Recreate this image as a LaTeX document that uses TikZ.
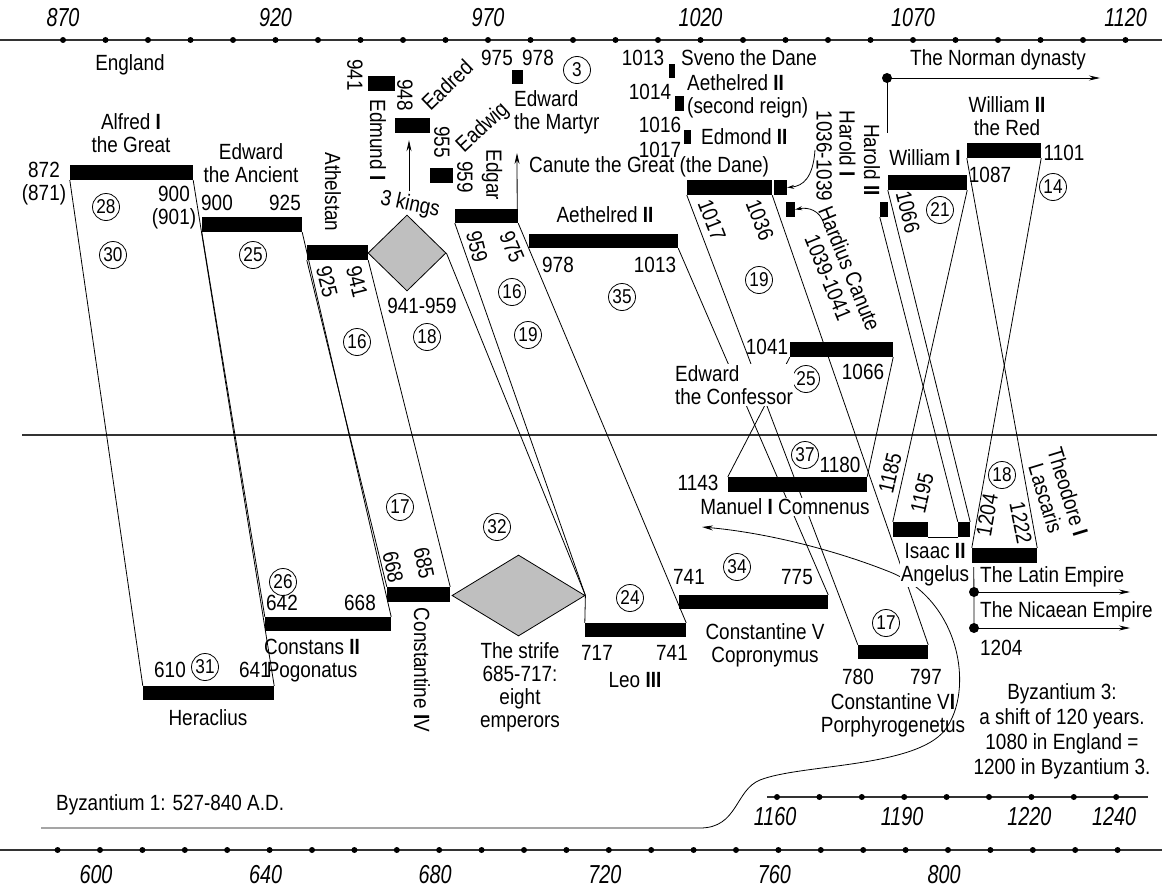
\documentclass[tikz,border=0pt]{standalone}
\usepackage{fontspec}
\setmainfont{Liberation Sans}[FakeStretch=0.86]
\newfontfamily\axisfont{Liberation Sans}[FakeStretch=0.76]
\usetikzlibrary{arrows.meta, fit, shapes.geometric}
\newcommand{\circfont}{\fontsize{20}{22}\selectfont}
\newcommand{\yrfont}{\axisfont\itshape\fontsize{26}{28}\selectfont}
\newcommand{\rn}[1]{\textbf{#1}}

\begin{document}
\begin{tikzpicture}[x=1pt, y=-1pt, font=\fontsize{22}{23}\selectfont,
  bar/.style={fill=black, inner sep=0pt},
  link/.style={line width=0.8pt},
  lbl/.style={inner sep=1pt, align=center},
  downlbl/.style={lbl, rotate=-90},
  num/.style={circle, draw, line width=0.8pt, inner sep=0pt, minimum size=27pt, font=\circfont},
  arr/.style={-{Stealth[length=11pt, width=5pt]}, line width=0.8pt},
  smallarr/.style={-{Stealth[length=7pt, width=4pt]}, line width=0.8pt},
  axis/.style={line width=1.3pt, black!80},
  yr/.style={font=\yrfont, inner sep=0pt},
  kingdom/.style={diamond, draw, fill=black!25, inner sep=0pt, line width=0.8pt},
  blank/.style={fill=white, inner sep=1pt, align=center}]
\useasboundingbox (0,0) rectangle (1162,891);

% time axes
\draw[axis] (0,40) -- (1162,40);
\foreach \yr in {870,880,...,1120} \fill ({63+4.25*(\yr-870)},40) circle (3pt);
\foreach \yr in {870,920,...,1120} \node[yr] at ({63+4.25*(\yr-870)},18) {\yr};
\draw[axis] (0,850) -- (1162,850);
\foreach \yr in {590,600,...,840} \fill ({100+4.24*(\yr-600)},850) circle (3pt);
\foreach \yr in {600,640,...,800} \node[yr] at ({96+4.24*(\yr-600)},875) {\yr};
\draw[axis] (767,797) -- (1148,797);
\foreach \yr in {1160,1170,...,1240} \fill ({777+4.24*(\yr-1160)},797) circle (3pt);
\foreach \yr in {1160,1190,1220,1240} \node[yr] at ({775+4.24*(\yr-1160)},817) {\yr};
\draw[axis] (22,435) -- (1157,435);

% English reigns
\node[bar, fit={(70,165) (193,180)}] (alfred) {};
\node[bar, fit={(202,217) (302,232)}] (edwardA) {};
\node[bar, fit={(307,245) (368,260)}] (athelstan) {};
\node[bar, fit={(368,76) (395,91)}] (edmund) {};
\node[bar, fit={(395,118) (430,133)}] (eadred) {};
\node[bar, fit={(430,168) (453,183)}] (eadwig) {};
\node[bar, fit={(455,209) (518,223)}] (edgar) {};
\node[bar, fit={(512,70) (523,84)}] (martyr) {};
\node[bar, fit={(529,234) (678,248)}] (aethelred) {};
\node[bar, fit={(669,64) (675,78)}] (sveno) {};
\node[bar, fit={(675,96) (684,111)}] (aethelredB) {};
\node[bar, fit={(684,130) (691,144)}] (edmond) {};
\node[bar, fit={(687,180) (772,195)}] (canute) {};
\node[bar, fit={(774,180) (787,195)}] (haroldI) {};
\node[bar, fit={(786,202) (795,217)}] (hardius) {};
\node[bar, fit={(790,342) (893,357)}] (confessor) {};
\node[bar, fit={(880,202) (888,217)}] (haroldII) {};
\node[bar, fit={(888,175) (967,190)}] (williamI) {};
\node[bar, fit={(967,143) (1041,158)}] (williamII) {};
\node[kingdom, minimum width=78pt, minimum height=76pt] (kings) at (407,253) {};

% Byzantine reigns
\node[bar, fit={(143,686) (274,700)}] (heraclius) {};
\node[bar, fit={(265,617) (391,631)}] (constans) {};
\node[bar, fit={(387,587) (450,602)}] (constIV) {};
\node[bar, fit={(585,623) (686,637)}] (leo) {};
\node[bar, fit={(679,595) (828,609)}] (constV) {};
\node[bar, fit={(858,645) (928,659)}] (constVI) {};
\node[bar, fit={(728,477) (867,492)}] (manuel) {};
\node[bar, fit={(893,522) (928,537)}] (isaac) {};
\node[bar, fit={(958,522) (970,537)}] (isaacB) {};
\node[bar, fit={(972,548) (1037,563)}] (theodore) {};
\node[kingdom, minimum width=133pt, minimum height=81pt] (strife) at (518.5,595.5) {};

% parallels
\draw[link] (alfred.south west) -- (heraclius.north west);
\draw[link] (alfred.south east) -- (heraclius.north east);
\draw[link] (edwardA.south west) -- (constans.north west);
\draw[link] (edwardA.south east) -- (constans.north east);
\draw[link] (athelstan.south west) -- (constIV.north west);
\draw[link] (athelstan.south east) -- (constIV.north east);
\draw[link] (kings.east) -- (strife.east);
\draw[link] (edgar.south west) -- (strife.east) -- (leo.north west);
\draw[link] (edgar.south east) -- (leo.north east);
\draw[link] (aethelred.south east) -- (constV.north east);
\draw[link] (canute.south west) -- (constVI.north west);
\draw[link] (canute.south east) -- (constVI.north east);
\draw[link] (confessor.south west) -- (manuel.north west);
\draw[link] (confessor.south east) -- (manuel.north east);
\draw[link] (haroldII.south west) -- (isaacB.north west);
\draw[link] (williamI.south west) -- (isaacB.north east);
\draw[link] (williamI.south east) -- (isaac.north west);
\draw[link] (williamII.south west) -- (theodore.north east);
\draw[link] (williamII.south east) -- (theodore.north west);
\draw[line width=0.4pt] (isaac.south east) -- (isaacB.south west);

% arrows
\coordinate (kingsfoot) at (409,191);
\draw[arr] (kingsfoot) -- (kingsfoot |- eadred.south) [shorten >=7pt];
\coordinate (martyrtip) at (517,153);
\draw[arr] ([xshift=-1pt]edgar.north east) -- (martyrtip);
\coordinate (haroldIfrom) at (815,150);
\draw[smallarr] (haroldIfrom) .. controls (813,178) and (803,186) .. (haroldI.east);
\coordinate (hardiusfrom) at (824,224);
\draw[smallarr] (hardiusfrom) .. controls (820,210) and (808,207) .. (hardius.east);
\coordinate (norman) at (887,78);
\coordinate (normanfoot) at (887,133);
\coordinate (normanend) at (1100,78);
\fill (norman) circle (5pt);
\draw[link] (norman) -- (normanfoot);
\draw[arr] (norman) -- (normanend);
\coordinate (latin) at (974,592);
\coordinate (nicaea) at (974,628);
\coordinate (latinend) at (1130,592);
\coordinate (nicaeaend) at (1130,628);
\draw[link] ([xshift=2pt,yshift=-4pt]theodore.south west) -- (nicaea);
\fill (latin) circle (5pt);
\fill (nicaea) circle (5pt);
\draw[arr] (latin) -- (latinend);
\draw[arr] (nicaea) -- (nicaeaend);
\coordinate (byzstart) at (41,828);
\coordinate (manuelarr) at (702,527);
\draw[arr] (byzstart) -- (700,828) .. controls (738,828) and (735,790) .. (760,780)
  .. controls (800,764) and (915,768) .. (945,730)
  .. controls (975,690) and (960,600) .. (890,572)
  .. controls (830,548) and (760,532) .. (manuelarr);

% England labels
\node[lbl] at (130,65) {England};
\node[lbl] at (131,133) {Alfred \rn{I}\\the Great};
\node[lbl] at (44,184) {872\\(871)};
\node[lbl] at (174,208) {900\\(901)};
\node[num] at (106,207) {28};
\node[num] at (113,255) {30};
\node[lbl] at (251,163) {Edward\\the Ancient};
\node[lbl] at (217,203) {900};
\node[lbl] at (285,203) {925};
\node[num] at (253,255) {25};
\node[downlbl] at (333,192) {Athelstan};
\node[lbl, rotate=-76] at (327,282) {925};
\node[lbl, rotate=-76] at (357,282) {941};
\node[lbl, rotate=-12] at (410,205) {3 kings};
\node[lbl] at (422,306) {941-959};
\node[num] at (357,342) {16};
\node[num] at (427,337) {18};
\node[downlbl] at (355,75) {941};
\node[downlbl] at (378,140) {Edmund \rn{I}};
\node[downlbl] at (405,95) {948};
\node[lbl, rotate=44] at (447,85) {Eadred};
\node[downlbl] at (442,142) {955};
\node[lbl, rotate=43] at (483,128) {Eadwig};
\node[downlbl] at (465,177) {959};
\node[downlbl] at (492,175) {Edgar};
\node[lbl, rotate=-76] at (477,247) {959};
\node[lbl, rotate=-67] at (512,247) {975};
\node[num] at (512,292) {16};
\node[num] at (528,335) {19};
\node[lbl] at (497,58) {975};
\node[lbl] at (538,58) {978};
\node[num] at (577,70) {3};
\node[lbl, anchor=west, align=left] at (513,112) {Edward\\the Martyr};
\node[lbl, anchor=west] at (528,167) {Canute the Great (the Dane)};
\node[lbl] at (605,215) {Aethelred \rn{II}};
\node[lbl] at (558,265) {978};
\node[lbl] at (655,265) {1013};
\node[num] at (622,297) {35};
\node[lbl] at (643,58) {1013};
\node[lbl, anchor=west] at (680,58) {Sveno the Dane};
\node[lbl] at (650,92) {1014};
\node[lbl, anchor=west, align=left] at (686,96) {Aethelred \rn{II}\\(second reign)};
\node[lbl] at (660,125) {1016};
\node[lbl, anchor=west] at (700,137) {Edmond \rn{II}};
\node[lbl] at (660,150) {1017};
\node[lbl, rotate=-69] at (712,220) {1017};
\node[lbl, rotate=-69] at (760,220) {1036};
\node[num] at (759,280) {19};
\node[lbl, rotate=-90, align=left] at (836,156) {Harold \rn{I}\\1036-1039};
\node[lbl, rotate=-68] at (839,273) {Hardius Canute\\1039-1041};
\node[downlbl] at (872,160) {Harold \rn{II}};
\node[lbl] at (767,347) {1041};
\node[lbl] at (863,372) {1066};
\node[num] at (806,379) {25};
\node[blank, anchor=west, align=left] at (674,385) {Edward\\the Confessor};
\node[lbl] at (998,60) {The Norman dynasty};
\node[lbl] at (925,158) {William \rn{I}};
\node[lbl] at (1007,116) {William \rn{II}\\the Red};
\node[lbl] at (1064,153) {1101};
\node[lbl] at (990,175) {1087};
\node[num] at (1053,187) {14};
\node[num] at (940,210) {21};
\node[lbl, rotate=-76] at (908,212) {1066};

% Byzantine labels
\node[num] at (805,455) {37};
\node[lbl] at (840,465) {1180};
\node[lbl] at (698,483) {1143};
\node[blank] at (785,507) {Manuel \rn{I} Comnenus};
\node[lbl, rotate=77] at (890,473) {1185};
\node[lbl, rotate=77] at (922,493) {1195};
\node[lbl, rotate=80] at (987,515) {1204};
\node[lbl, rotate=-79] at (1021,523) {1222};
\node[num] at (1002,475) {18};
\node[lbl, rotate=-73] at (1057,495) {Theodore \rn{I}\\Lascaris};
\node[blank] at (935,565) {Isaac \rn{II}\\Angelus};
\node[lbl, anchor=west] at (979,577) {The Latin Empire};
\node[lbl, anchor=west] at (979,612) {The Nicaean Empire};
\node[lbl, anchor=west] at (979,648) {1204};
\node[num] at (400,507) {17};
\node[num] at (497,527) {32};
\node[lbl, rotate=-78] at (393,567) {668};
\node[lbl, rotate=-78] at (424,563) {685};
\node[downlbl] at (422,670) {Constantine \rn{I}V};
\node[num] at (283,582) {26};
\node[lbl] at (282,603) {642};
\node[lbl] at (360,603) {668};
\node[lbl] at (312,661) {Constans \rn{II}\\Pogonatus};
\node[num] at (205,667) {31};
\node[lbl] at (170,670) {610};
\node[lbl] at (255,670) {641};
\node[lbl] at (208,718) {Heraclius};
\node[lbl] at (520,687) {The strife\\685-717:\\eight\\emperors};
\node[lbl] at (597,653) {717};
\node[lbl] at (672,653) {741};
\node[lbl] at (635,680) {Leo \rn{III}};
\node[num] at (630,598) {24};
\node[lbl] at (689,577) {741};
\node[lbl] at (797,577) {775};
\node[num] at (737,567) {34};
\node[lbl] at (765,645) {Constantine V\\Copronymus};
\node[num] at (886,623) {17};
\node[lbl] at (858,677) {780};
\node[lbl] at (926,677) {797};
\node[lbl] at (893,715) {Constantine V\rn{I}\\Porphyrogenetus};
\node[lbl, font=\fontsize{22}{25}\selectfont] at (1062,731) {Byzantium 3:\\a shift of 120 years.\\1080 in England =\\1200 in Byzantium 3.};
\node[lbl, anchor=west] at (55,805) {Byzantium 1: 527-840 A.D.};
\end{tikzpicture}
\end{document}
